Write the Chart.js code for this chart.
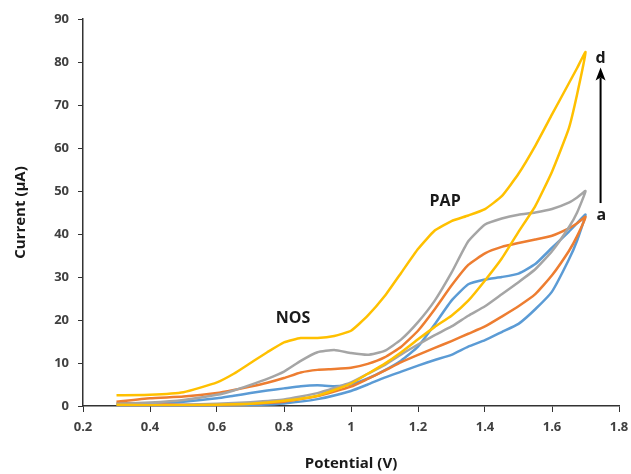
<!DOCTYPE html>
<html>
<head>
<meta charset="utf-8">
<script src="https://cdn.jsdelivr.net/npm/chart.js@4"></script>
<style>
  html, body { margin: 0; padding: 0; background: #ffffff; }
  #wrap { width: 631px; height: 474px; }
</style>
</head>
<body>
<div id="wrap"><canvas id="c" width="631" height="474"></canvas></div>
<script>
// Potential (V): forward sweep and reverse sweep
const potentialForward = [0.3,0.4,0.5,0.6,0.65,0.7,0.75,0.8,0.85,0.9,0.95,1.0,1.05,1.1,1.15,1.2,1.25,1.3,1.35,1.4,1.45,1.5,1.55,1.6,1.65,1.675,1.7];
const potentialReverse = [1.7,1.675,1.65,1.6,1.55,1.5,1.45,1.4,1.35,1.3,1.25,1.2,1.15,1.1,1.05,1.0,0.9,0.8,0.7,0.6,0.5,0.4,0.3];

// Current (µA) — curve a (blue)
const aForward = [0.5,0.6,1.0,1.8,2.4,3.0,3.6,4.1,4.6,4.8,4.6,5.0,6.4,8.3,10.6,13.8,19,24.5,28.3,29.4,30,30.8,33,36.8,40.5,42.5,44.5];
const aReverse = [44.5,38.5,34,26.6,22.5,19.1,17.2,15.3,13.8,11.9,10.7,9.4,8.0,6.6,5.0,3.5,1.6,0.6,0.2,0.1,0.1,0.2,0.4];
// curve b (orange)
const bForward = [1.0,1.8,2.2,3.0,3.7,4.5,5.4,6.5,7.8,8.4,8.6,8.9,9.8,11.3,13.8,17.5,22.5,28,32.8,35.5,37,37.9,38.7,39.6,41.3,42.5,44];
const bReverse = [44,39.5,36,30.4,26,23.2,20.8,18.5,16.8,15.1,13.5,11.9,10.2,8.2,6.3,4.5,2.3,1.0,0.5,0.3,0.3,0.5,0.8];
// curve c (gray)
const cForward = [0.5,0.8,1.4,2.6,3.6,4.9,6.3,8.0,10.5,12.5,13.0,12.3,11.9,12.8,15.5,19.5,24.5,31,38.3,42.2,43.6,44.5,45,45.8,47.3,48.5,50];
const cReverse = [50,45,41.5,36,31.8,28.8,26,23.2,21,18.5,16.5,14.3,12,9.5,7.5,5.5,3.0,1.5,0.9,0.5,0.3,0.3,0.4];
// curve d (yellow)
const dForward = [2.5,2.6,3.2,5.5,7.5,10,12.5,14.8,15.8,15.8,16.3,17.5,21,25.5,31,36.5,40.8,43,44.3,45.8,48.8,54,60.5,67.8,75,78.6,82.3];
const dReverse = [82.3,72.5,64.5,54.5,46.5,40.5,34.3,29.2,24.5,21,18.4,15.5,12.5,9.8,7.5,5.2,2.4,1.2,0.5,0.3,0.2,0.2,0.3];

const xTicks = [0.2,0.4,0.6,0.8,1,1.2,1.4,1.6,1.8];
const yTicks = [0,10,20,30,40,50,60,70,80,90];

// Annotations (data coordinates)
const labels = [
  { text: 'NOS', x: 0.827, y: 20.4 },
  { text: 'PAP', x: 1.281, y: 47.6 },
  { text: 'd',   x: 1.745, y: 80.8 },
  { text: 'a',   x: 1.747, y: 44.4 }
];
const arrow = { x: 1.745, yFrom: 47.2, yTo: 78.7 };

function loop(fx, fy, rx, ry) {
  const pts = [];
  fx.forEach((x, i) => pts.push({ x: x, y: fy[i] }));
  rx.forEach((x, i) => { if (i > 0) pts.push({ x: x, y: ry[i] }); });
  return pts;
}

const series = [
  { name: 'd', color: '#FFC000', data: loop(potentialForward, dForward, potentialReverse, dReverse) },
  { name: 'c', color: '#A5A5A5', data: loop(potentialForward, cForward, potentialReverse, cReverse) },
  { name: 'b', color: '#ED7D31', data: loop(potentialForward, bForward, potentialReverse, bReverse) },
  { name: 'a', color: '#5B9BD5', data: loop(potentialForward, aForward, potentialReverse, aReverse) }
];

const FONT = "'Open Sans', 'DejaVu Sans', sans-serif";

const annot = {
  id: 'annot',
  afterDatasetsDraw(chart) {
    const { ctx, scales: { x, y } } = chart;
    ctx.save();
    ctx.fillStyle = '#1a1a1a';
    ctx.font = 'bold 16px ' + FONT;
    ctx.textAlign = 'center';
    ctx.textBaseline = 'middle';
    labels.forEach(l => ctx.fillText(l.text, x.getPixelForValue(l.x), y.getPixelForValue(l.y)));
    // arrow
    const ax = x.getPixelForValue(arrow.x);
    const y0 = y.getPixelForValue(arrow.yFrom);
    const y1 = y.getPixelForValue(arrow.yTo);
    ctx.strokeStyle = '#000';
    ctx.lineWidth = 2;
    ctx.beginPath();
    ctx.moveTo(ax, y0);
    ctx.lineTo(ax, y1 + 10);
    ctx.stroke();
    ctx.fillStyle = '#000';
    ctx.beginPath();
    ctx.moveTo(ax, y1);
    ctx.lineTo(ax - 5, y1 + 13);
    ctx.lineTo(ax, y1 + 10);
    ctx.lineTo(ax + 5, y1 + 13);
    ctx.closePath();
    ctx.fill();
    ctx.restore();
  }
};

new Chart(document.getElementById('c'), {
  type: 'scatter',
  data: {
    datasets: series.map(s => ({
      label: s.name,
      data: s.data,
      showLine: true,
      borderColor: s.color,
      backgroundColor: s.color,
      borderWidth: 2.5,
      pointRadius: 0,
      tension: 0.15,
      fill: false
    }))
  },
  options: {
    responsive: false,
    animation: false,
    events: [],
    layout: { padding: { left: 0, right: 12, top: 19, bottom: 0 } },
    plugins: { legend: { display: false }, tooltip: { enabled: false } },
    scales: {
      x: {
        type: 'linear',
        min: 0.2, max: 1.8,
        afterBuildTicks: s => { s.ticks = xTicks.map(v => ({ value: v })); },
        afterFit: s => { s.height = 68; s.paddingRight = 0; s.paddingLeft = 0; },
        grid: { drawOnChartArea: false, drawTicks: true, tickLength: 6, color: '#333' },
        border: { display: true, color: '#333', width: 1.5 },
        ticks: {
          color: '#404040',
          font: { family: FONT, size: 13, weight: 'bold' },
          padding: 7,
          maxRotation: 0,
          callback: v => String(v)
        },
        title: {
          display: true,
          text: 'Potential (V)',
          color: '#1a1a1a',
          font: { family: FONT, size: 15, weight: 'bold' },
          padding: { top: 0, bottom: 1 }
        }
      },
      y: {
        type: 'linear',
        min: 0, max: 90,
        afterBuildTicks: s => { s.ticks = yTicks.map(v => ({ value: v })); },
        afterFit: s => { s.width = 83; },
        grid: { drawOnChartArea: false, drawTicks: true, tickLength: 5, color: '#333' },
        border: { display: true, color: '#333', width: 1.5 },
        ticks: {
          color: '#404040',
          font: { family: FONT, size: 13, weight: 'bold' },
          padding: 9
        },
        title: {
          display: true,
          text: 'Current (µA)',
          color: '#1a1a1a',
          font: { family: FONT, size: 15, weight: 'bold' },
          padding: { top: 12, bottom: 0 }
        }
      }
    }
  },
  plugins: [annot]
});
</script>
</body>
</html>
